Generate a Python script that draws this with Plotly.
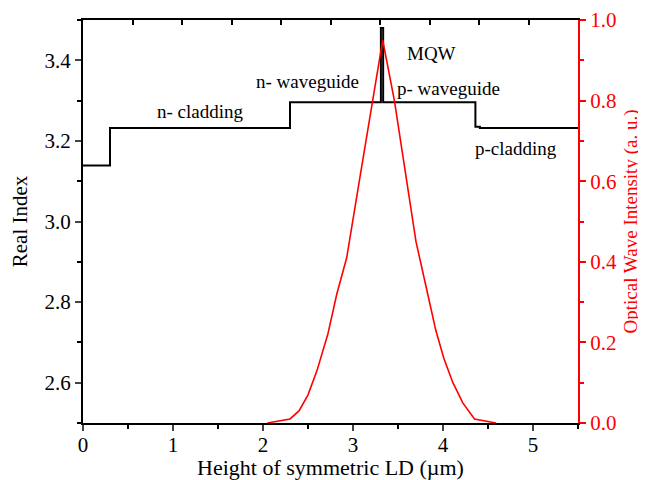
import plotly.graph_objects as go

# refractive index profile (step)
pos_um = [0, 0.30, 2.30, 3.31, 3.335, 4.36, 4.41, 5.5]
real_index = [3.139, 3.232, 3.296, 3.48, 3.296, 3.235, 3.232, 3.232]

# optical wave intensity
wave_x = [2.05, 2.30, 2.40, 2.50, 2.60, 2.72, 2.82, 2.93, 3.07, 3.20, 3.33,
          3.46, 3.58, 3.70, 3.82, 3.92, 4.01, 4.11, 4.22, 4.35, 4.59]
wave_int = [0.0, 0.01, 0.03, 0.07, 0.13, 0.22, 0.32, 0.41, 0.60, 0.78, 0.95,
            0.80, 0.62, 0.45, 0.33, 0.23, 0.16, 0.10, 0.05, 0.01, 0.0]

labels = ["n- cladding", "n- waveguide", "MQW", "p- waveguide", "p-cladding"]
label_x = [1.30, 2.49, 3.87, 4.06, 4.81]
label_y = [3.274, 3.348, 3.417, 3.330, 3.181]

FONT = "Liberation Serif"
RED = "#ff0000"

fig = go.Figure()
fig.add_trace(go.Scatter(x=pos_um, y=real_index, mode="lines", line_shape="hv",
                         line=dict(color="black", width=2), showlegend=False))
fig.add_trace(go.Scatter(x=wave_x, y=wave_int, mode="lines", xaxis="x2", yaxis="y2",
                         line=dict(color=RED, width=1.6), showlegend=False))

for t, lx, ly in zip(labels, label_x, label_y):
    fig.add_annotation(x=lx, y=ly, text=t, showarrow=False,
                       font=dict(family=FONT, size=19, color="black"))

# page body has an 8px margin, so the figure is a bit smaller than the window
fig.update_layout(
    width=638, height=472,
    margin=dict(l=75, r=68, t=12, b=57),
    plot_bgcolor="white", paper_bgcolor="white",
    font=dict(family=FONT, size=21, color="black"),
    xaxis=dict(range=[0, 5.5], tick0=0, dtick=1, ticks="outside", ticklen=6, tickwidth=2,
               showline=True, linecolor="black", linewidth=2, showgrid=False, zeroline=False,
               minor=dict(dtick=0.5, ticks="outside", ticklen=4, tickwidth=2, tickcolor="black"),
               title=dict(text="Height of symmetric LD (µm)", font=dict(size=22), standoff=2),
               tickfont=dict(size=21), ticklabelstandoff=-4, automargin=False),
    xaxis2=dict(range=[0, 5.5], overlaying="x", side="top", anchor="y", tick0=0, dtick=0.55,
                ticks="inside", ticklen=5, tickwidth=2, tickcolor="black", showticklabels=False,
                showline=True, linecolor="black", linewidth=2, showgrid=False, zeroline=False),
    yaxis=dict(range=[2.5, 3.5], tick0=2.6, dtick=0.2, tickformat=".1f", ticks="outside",
               ticklen=6, tickwidth=2, showline=True, linecolor="black", linewidth=2,
               showgrid=False, zeroline=False, automargin=False,
               minor=dict(dtick=0.1, ticks="outside", ticklen=4, tickwidth=2, tickcolor="black"),
               title=dict(text="Real Index", font=dict(size=21), standoff=12)),
    yaxis2=dict(range=[0, 1], overlaying="y", side="right", anchor="x2", tick0=0, dtick=0.2,
                tickformat=".1f", ticks="outside", ticklen=6, tickwidth=2, tickcolor=RED,
                showline=True, linecolor=RED, linewidth=2, showgrid=False, zeroline=False,
                tickfont=dict(color=RED, size=21), automargin=False,
                minor=dict(dtick=0.1, ticks="outside", ticklen=4, tickwidth=2, tickcolor=RED),
                title=dict(text="Optical Wave Intensity (a. u.)", font=dict(size=19, color=RED),
                           standoff=8)),
)

fig.write_html("out.html")
